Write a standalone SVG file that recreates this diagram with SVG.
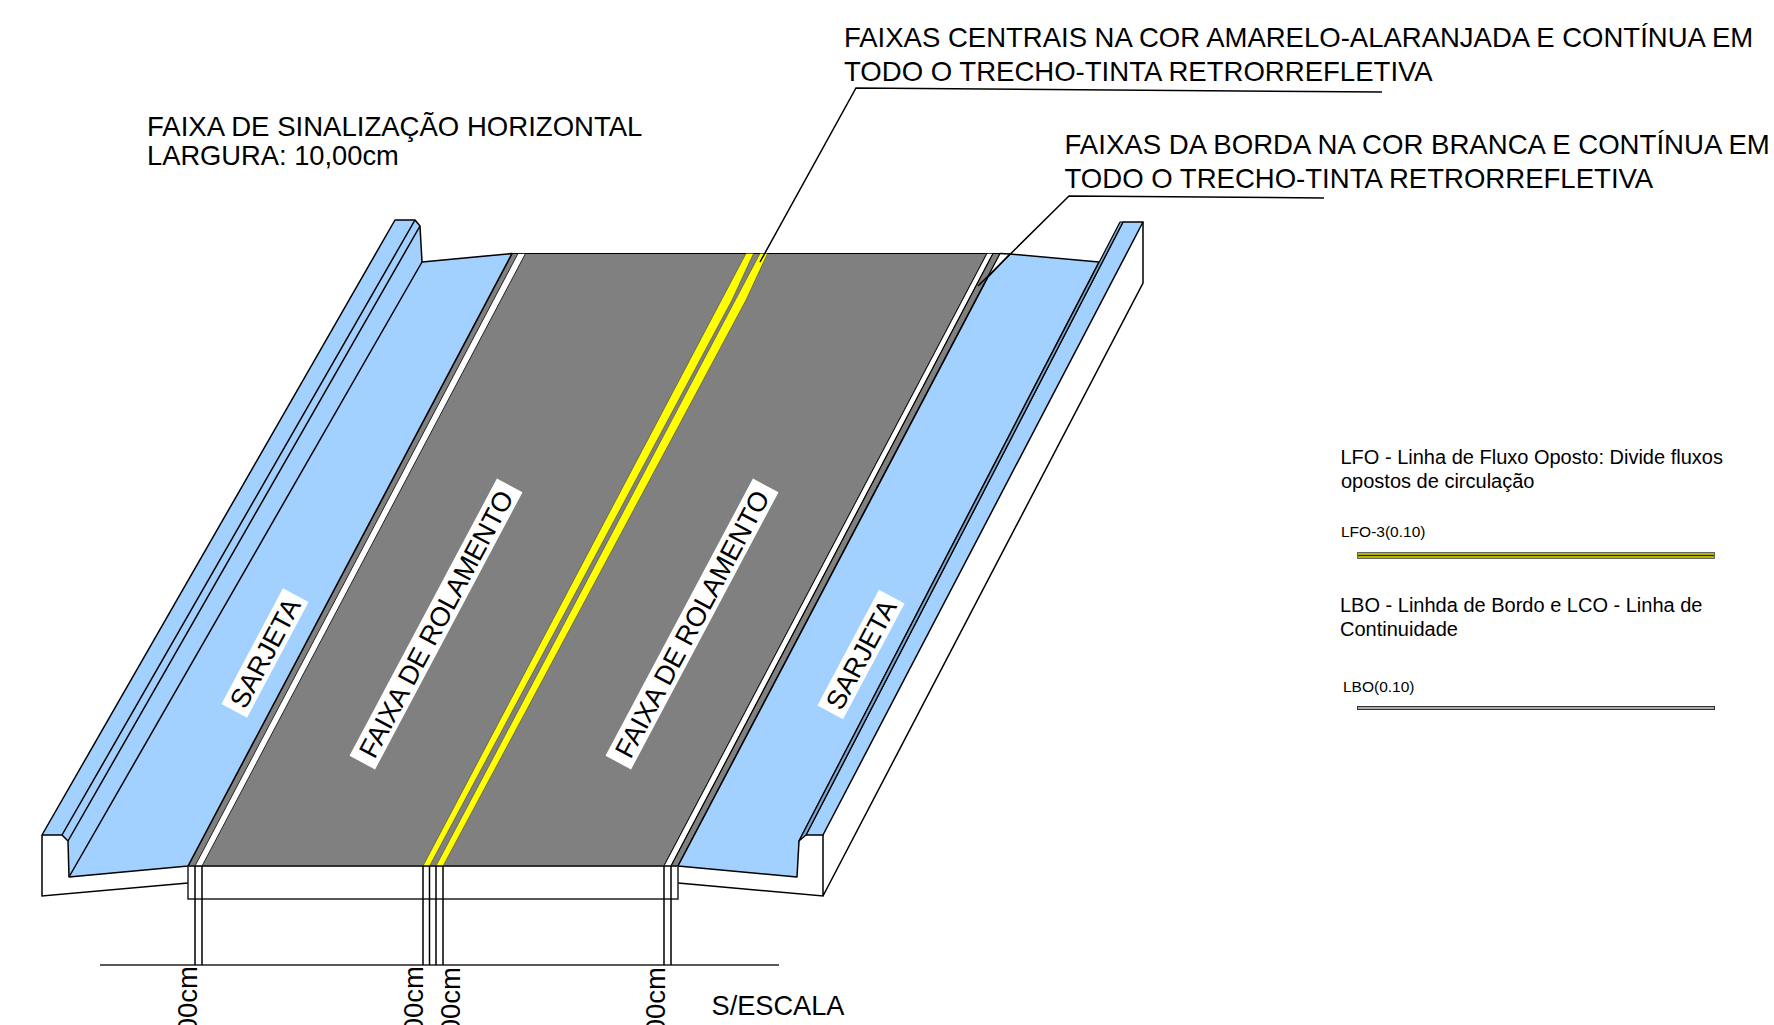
<svg xmlns="http://www.w3.org/2000/svg" width="1774" height="1025" viewBox="0 0 1774 1025">
<style>
text{font-family:"Liberation Sans",Arial,sans-serif;fill:#000}
.t{font-size:27.5px}
.s{font-size:20px}
.xs{font-size:15.5px}
.r{font-size:27px}
.b{fill:#a2d0ff;stroke:#000;stroke-width:1.5;stroke-linejoin:round}
.g{fill:#808080;stroke:#000;stroke-width:1.2}
.y{fill:#ffff00;stroke:#333;stroke-width:.5}
.w{fill:#fff;stroke:#000;stroke-width:.8}
.l{fill:none;stroke:#000;stroke-width:1.5}
.d{fill:none;stroke:#222;stroke-width:1.5}
</style>
<rect width="1774" height="1025" fill="#fff"/>
<g id="road">
<polygon class="g" points="188,866 512,253.500 987,253.500 664,866"/>
<polygon class="w" points="195,866 518,253.500 525.500,253.500 202,866"/>
<polygon class="y" points="423,866 746,253.500 753.500,253.500 732,300 429.500,866"/>
<polygon class="y" points="436,866 760,253.500 767.500,253.500 746,300 443,866"/>
<polygon class="w" points="664,866 987,253.500 993,253.500 671,866"/>
<polygon class="g" points="671,866 993,253.500 1000,253.500 678,866"/>
</g>
<g id="sarjeta-esquerda">
<polygon class="b" points="42,835 395,220 415,220 420,226 422,262 512,253.500 188,866 69,877 68,841 62,835"/>
<path class="l" d="M62,835 415,220M68,841 420,226M69,877 422,262"/>
<path class="l" d="M42,835V896L188,883"/>
</g>
<g id="sarjeta-direita">
<polygon class="b" points="678,866 797,877 799,841 1099,262 1010,254 988,277"/>
<polygon class="b" points="806,835 823,835 1143,222 1123,222"/>
<polygon points="799,841 806,835 1123,222 1120,222" fill="#7fa6cc" stroke="#000" stroke-width="1.2" stroke-linejoin="round"/>
<path class="l" d="M1000,253.500 1010,254"/>
<path class="l" d="M823,835V896L678,883M823,896 1143,283V222"/>
</g>
<g id="connectors">
<path class="d" d="M188,866H678V899H188Z"/>
<path class="d" d="M100,965H779"/>
<path class="l" d="M195,866V965M202,866V965M423,866V965M429.500,866V965M436,866V965M443,866V965M664,866V965M671,866V965"/>
<path class="l" d="M760,262 856,88 1382,92"/>
<path class="l" d="M978,286 1069,196 1324,198"/>
</g>
<g id="rotulos">
<g transform="translate(265,653) rotate(-62)"><rect x="-65.500" y="-14.500" width="131" height="29" fill="#fff"/><text class="r" text-anchor="middle" y="9.500">SARJETA</text></g>
<g transform="translate(436,624) rotate(-62)"><rect x="-157" y="-14.500" width="314" height="29" fill="#fff"/><text class="r" text-anchor="middle" y="9.500">FAIXA DE ROLAMENTO</text></g>
<g transform="translate(692,624) rotate(-62)"><rect x="-157" y="-14.500" width="314" height="29" fill="#fff"/><text class="r" text-anchor="middle" y="9.500">FAIXA DE ROLAMENTO</text></g>
<g transform="translate(861,654.500) rotate(-62)"><rect x="-65.500" y="-14.500" width="131" height="29" fill="#fff"/><text class="r" text-anchor="middle" y="9.500">SARJETA</text></g>
</g>
<g id="textos">
<text class="t" x="844" y="47">FAIXAS CENTRAIS NA COR AMARELO-ALARANJADA E CONTÍNUA EM</text>
<text class="t" x="844" y="81" style="font-size:27.55px">TODO O TRECHO-TINTA RETRORREFLETIVA</text>
<text class="t" x="1064.500" y="154" style="font-size:27.6px">FAIXAS DA BORDA NA COR BRANCA E CONTÍNUA EM</text>
<text class="t" x="1064.500" y="188" style="font-size:27.55px">TODO O TRECHO-TINTA RETRORREFLETIVA</text>
<text class="t" x="147" y="136" style="font-size:27.55px">FAIXA DE SINALIZAÇÃO HORIZONTAL</text>
<text class="t" x="147" y="165" style="font-size:27.3px">LARGURA: 10,00cm</text>
<text class="t" x="711.500" y="1015" style="font-size:27.2px">S/ESCALA</text>
<text class="t" transform="translate(197,966) rotate(-90)" text-anchor="end">00cm</text>
<text class="t" transform="translate(423,966) rotate(-90)" text-anchor="end">00cm</text>
<text class="t" transform="translate(460,967) rotate(-90)" text-anchor="end">00cm</text>
<text class="t" transform="translate(665,967) rotate(-90)" text-anchor="end">00cm</text>
</g>
<g id="legenda">
<text class="s" x="1340.500" y="464">LFO - Linha de Fluxo Oposto: Divide fluxos</text>
<text class="s" x="1341" y="488">opostos de circulação</text>
<text class="xs" x="1341" y="537">LFO-3(0.10)</text>
<rect x="1357.500" y="552.500" width="357" height="6" fill="#b4b400" stroke="#666"/>
<path d="M1358,555.500H1714" stroke="#222" stroke-width="1" fill="none"/>
<text class="s" x="1340" y="612">LBO - Linhda de Bordo e LCO - Linha de</text>
<text class="s" x="1340" y="636">Continuidade</text>
<text class="xs" x="1343" y="692">LBO(0.10)</text>
<rect x="1357.500" y="706.500" width="357" height="3" fill="#aaa" stroke="#333"/>
</g>
</svg>
